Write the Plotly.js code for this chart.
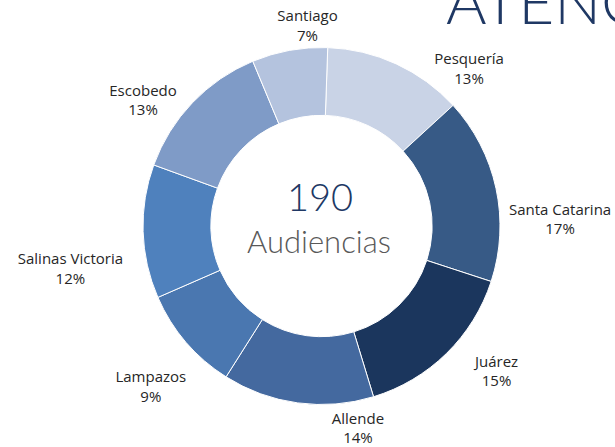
<!DOCTYPE html>
<html>
<head>
<meta charset="utf-8">
<script src="https://cdn.plot.ly/plotly-3.0.1.min.js"></script>
<style>html,body{margin:0;padding:0;background:#fff;}#chart{width:615px;height:447px;}</style>
</head>
<body>
<div id="chart"></div>
<script>
const municipios = ["Pesquería", "Santa Catarina", "Juárez", "Allende", "Lampazos", "Salinas Victoria", "Escobedo", "Santiago"];
const audiencias = [24, 32, 29, 26, 18, 23, 25, 13];
const colores = ["#c9d3e6", "#375a86", "#1b365d", "#44699f", "#4a77b0", "#4f81bd", "#7f9bc7", "#b4c3de"];
const totalTexto = "190";
const subtitulo = "Audiencias";
const tituloTexto = "ATENCIÓN";

// label placement styling: nudge of each label ring centre, in px (right, down)
const desplazaX = [26, -2, 13, 97, 14, -5, -2, 59];
const desplazaY = [25, 32, 3, 0, 32, 36, 10, -1];

const W = 615, H = 447, CX = 321.5, CY = 226, R = 178.5, RL = 183.7;
function dominio(r, dx, dy) {
  const cx = CX + (dx || 0), cy = CY + (dy || 0);
  return { x: [(cx - r) / W, (cx + r) / W], y: [(H - cy - r) / H, (H - cy + r) / H] };
}

// visible donut ring
const anillo = {
  type: "pie",
  labels: municipios,
  values: audiencias,
  sort: false,
  direction: "clockwise",
  rotation: 2,
  hole: 0.62,
  marker: { colors: colores, line: { color: "#ffffff", width: 1 } },
  textinfo: "none",
  domain: dominio(R),
  showlegend: false,
  hoverinfo: "label+value+percent"
};

// transparent rings, each carrying one outside label
const etiquetas = municipios.map((m, i) => ({
  type: "pie",
  labels: municipios,
  values: audiencias,
  sort: false,
  direction: "clockwise",
  rotation: 2,
  hole: 0.95,
  marker: { colors: municipios.map(() => "rgba(0,0,0,0)"), line: { width: 0 } },
  texttemplate: municipios.map((_, j) => (j === i ? "%{label}<br>%{percent:.0%}" : "")),
  textposition: "outside",
  textfont: { family: "Open Sans, Noto Sans, sans-serif", size: 15, color: "#262626" },
  domain: dominio(RL, desplazaX[i], desplazaY[i]),
  showlegend: false,
  hoverinfo: "skip"
}));

const layout = {
  width: W, height: H,
  margin: { l: 0, r: 0, t: 0, b: 0 },
  paper_bgcolor: "#ffffff",
  showlegend: false,
  annotations: [
    { text: totalTexto, xref: "paper", yref: "paper", x: 0.521, y: 0.562, xanchor: "center", yanchor: "middle",
      showarrow: false, font: { family: "Lato, Open Sans, sans-serif", size: 38, color: "#203864", weight: 300 } },
    { text: subtitulo, xref: "paper", yref: "paper", x: 0.518, y: 0.46, xanchor: "center", yanchor: "middle",
      showarrow: false, font: { family: "Lato, Open Sans, sans-serif", size: 31, color: "#595959", weight: 300 } },
    { text: tituloTexto, xref: "paper", yref: "paper", x: 0.722, y: 0.912, xanchor: "left", yanchor: "bottom",
      showarrow: false, font: { family: "Lato, Open Sans, sans-serif", size: 62, color: "#1f3864", weight: 300 } }
  ]
};

Plotly.newPlot("chart", [anillo].concat(etiquetas), layout, { displayModeBar: false, staticPlot: true });
</script>
</body>
</html>
